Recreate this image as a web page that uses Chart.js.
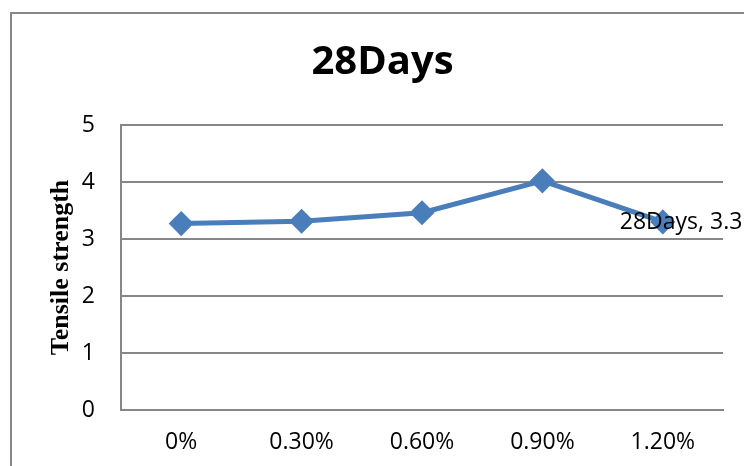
<!DOCTYPE html>
<html>
<head>
<meta charset="utf-8">
<script src="https://cdn.jsdelivr.net/npm/chart.js@4"></script>
<style>
  html, body { margin: 0; padding: 0; background: #fff; overflow: hidden; }
  #frame { position: absolute; left: 10px; top: 12px; width: 900px; height: 600px;
           border-left: 2px solid #878787; border-top: 2px solid #878787; }
  #chart { position: absolute; left: 0; top: 0; }
</style>
</head>
<body>
<div id="frame"></div>
<canvas id="chart" width="744" height="466"></canvas>
<script>
// data
const seriesName = "28Days";
const fibre = ["0%", "0.30%", "0.60%", "0.90%", "1.20%"];
const tensile = [3.27, 3.31, 3.46, 4.02, 3.3];
const labelIndex = 4; // only the last point carries a data label

const blue = "#4a7ebb";
const gridGrey = "#878787";

// ===== DATA LABEL =====
const pointLabel = {
  id: "pointLabel",
  afterDatasetsDraw(chart) {
    const p = chart.getDatasetMeta(0).data[labelIndex];
    const ctx = chart.ctx;
    ctx.save();
    ctx.font = "23px 'Open Sans'";
    ctx.fillStyle = "#000";
    ctx.textBaseline = "middle";
    ctx.textAlign = "left";
    ctx.fillText(seriesName + ", " + tensile[labelIndex], p.x - 43, p.y + 1);
    ctx.restore();
  }
};

new Chart(document.getElementById("chart"), {
  type: "line",
  data: {
    labels: fibre,
    datasets: [{
      label: seriesName,
      data: tensile,
      borderColor: blue,
      backgroundColor: blue,
      borderWidth: 5,
      pointStyle: "rectRot",
      pointRadius: 9,
      pointHoverRadius: 9,
      pointBackgroundColor: blue,
      pointBorderColor: blue,
      tension: 0
    }]
  },
  options: {
    responsive: false,
    animation: false,
    layout: { padding: { left: 21, right: 0, top: 0, bottom: 0 } },
    plugins: {
      legend: { display: false },
      tooltip: { enabled: false },
      title: {
        display: true,
        text: seriesName,
        color: "#000",
        font: { family: "'Open Sans'", size: 40, weight: "bold" },
        padding: { top: 39, bottom: 38 }
      }
    },
    scales: {
      x: {
        offset: true,
        grid: { display: false, drawTicks: false },
        border: { display: true, color: gridGrey, width: 2 },
        ticks: { color: "#000", font: { family: "'Open Sans'", size: 23 }, padding: 19, maxRotation: 0 },
        afterFit: s => { s.height = 56; }
      },
      y: {
        min: 0,
        max: 5,
        ticks: { stepSize: 1, color: "#000", font: { family: "'Open Sans'", size: 23 }, padding: 26 },
        grid: { color: gridGrey, lineWidth: 2, drawTicks: false },
        border: { display: true, color: gridGrey, width: 2 },
        title: {
          display: true,
          text: "Tensile strength",
          color: "#000",
          font: { family: "'Liberation Serif'", size: 26, weight: "bold" },
          padding: { top: 25, bottom: 0 }
        },
        afterFit: s => { s.width = 100; }
      },
      // empty right-hand strip so the plot stops short of the edge
      yPad: {
        position: "right",
        min: 0,
        max: 5,
        grid: { display: false, drawTicks: false },
        border: { display: false },
        ticks: { display: false },
        afterFit: s => { s.width = 21; }
      }
    }
  },
  plugins: [pointLabel]
});
</script>
</body>
</html>
